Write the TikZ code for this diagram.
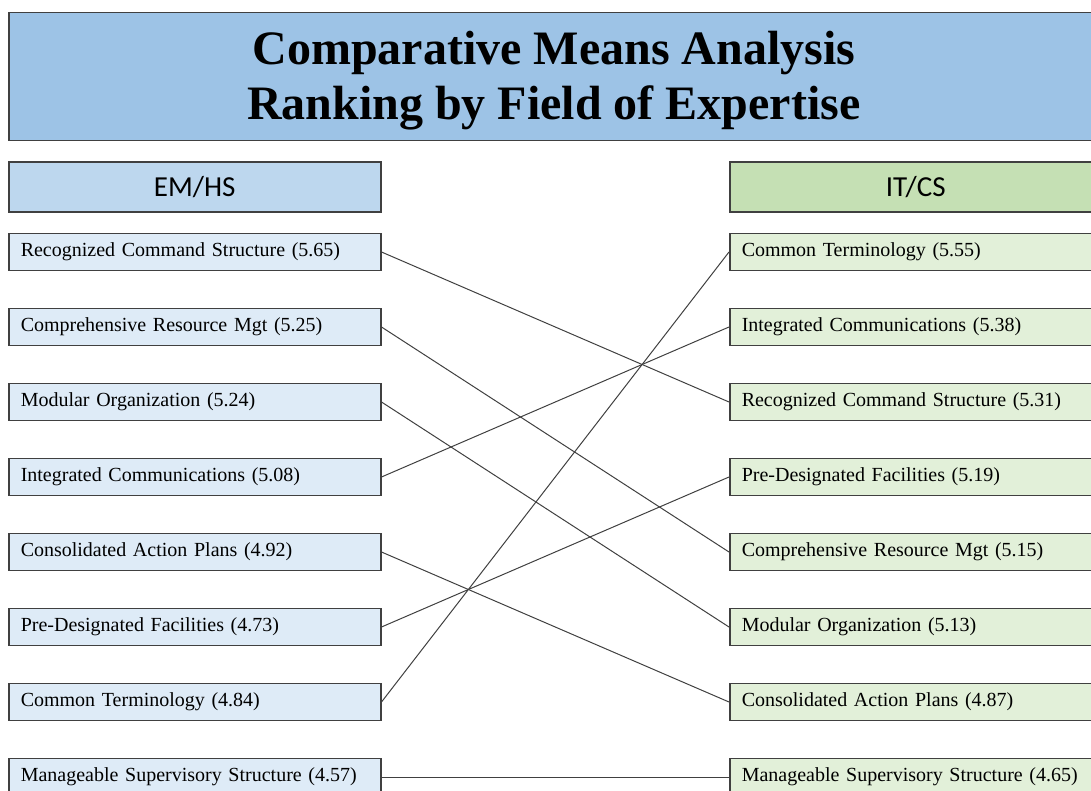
\documentclass[tikz,border=0pt]{standalone}
\usepackage{fontspec}
\setmainfont{Liberation Serif}
\newfontfamily\hdfont{Carlito}
\usetikzlibrary{positioning}
\definecolor{edge}{RGB}{64,64,64}
\definecolor{titlefill}{RGB}{157,195,230}
\definecolor{lhead}{RGB}{189,215,238}
\definecolor{lfill}{RGB}{222,235,247}
\definecolor{rhead}{RGB}{197,224,180}
\definecolor{rfill}{RGB}{226,240,217}
\newcommand\itemfont{\fontsize{20}{22}\selectfont\spaceskip=0.55em plus 0.1em\relax}
\tikzset{box/.style = {draw=edge, line width=1.5pt, minimum height=37pt, text width=348pt, inner xsep=12pt, inner ysep=0pt, font=\itemfont}}
\tikzset{lbox/.style = {box, fill=lfill}, rbox/.style = {box, fill=rfill}}
\tikzset{head/.style = {draw=edge, line width=1.5pt, minimum width=372pt, minimum height=50pt, anchor=west, font=\hdfont\fontsize{29}{32}\selectfont}}
\tikzset{link/.style = {draw=edge, line width=1pt}}

\begin{document}
\begin{tikzpicture}[x=1pt, y=-1pt]
    \useasboundingbox (0, 0) rectangle (1091, 791);

    \node [draw=edge, line width=1.5pt, fill=titlefill, anchor=north west, minimum width=1090pt, minimum height=128pt,
      label={[align=center, yshift=-4pt, font=\bfseries\fontsize{48}{55}\selectfont]center:Comparative Means Analysis\\Ranking by Field of Expertise}] (title) at (8, 12) {};

    % left column
    \node [head, fill=lhead] (lh) at (8, 187) {EM/HS};
    \node [lbox, anchor=west] (l1) at (8, 252) {Recognized Command Structure (5.65)};
    \node [lbox, below=36.5pt of l1] (l2) {Comprehensive Resource Mgt (5.25)};
    \node [lbox, below=36.5pt of l2] (l3) {Modular Organization (5.24)};
    \node [lbox, below=36.5pt of l3] (l4) {Integrated Communications (5.08)};
    \node [lbox, below=36.5pt of l4] (l5) {Consolidated Action Plans (4.92)};
    \node [lbox, below=36.5pt of l5] (l6) {Pre-Designated Facilities (4.73)};
    \node [lbox, below=36.5pt of l6] (l7) {Common Terminology (4.84)};
    \node [lbox, below=36.5pt of l7] (l8) {Manageable Supervisory Structure (4.57)};

    % right column
    \node [head, fill=rhead] (rh) at (729, 187) {IT/CS};
    \node [rbox, anchor=west] (r1) at (729, 252) {Common Terminology (5.55)};
    \node [rbox, below=36.5pt of r1] (r2) {Integrated Communications (5.38)};
    \node [rbox, below=36.5pt of r2] (r3) {Recognized Command Structure (5.31)};
    \node [rbox, below=36.5pt of r3] (r4) {Pre-Designated Facilities (5.19)};
    \node [rbox, below=36.5pt of r4] (r5) {Comprehensive Resource Mgt (5.15)};
    \node [rbox, below=36.5pt of r5] (r6) {Modular Organization (5.13)};
    \node [rbox, below=36.5pt of r6] (r7) {Consolidated Action Plans (4.87)};
    \node [rbox, below=36.5pt of r7] (r8) {Manageable Supervisory Structure (4.65)};

    \draw [link] (l1.east) -- (r3.west);
    \draw [link] (l2.east) -- (r5.west);
    \draw [link] (l3.east) -- (r6.west);
    \draw [link] (l4.east) -- (r2.west);
    \draw [link] (l5.east) -- (r7.west);
    \draw [link] (l6.east) -- (r4.west);
    \draw [link] (l7.east) -- (r1.west);
    \draw [link] (l8.east) -- (r8.west);
  \end{tikzpicture}
\end{document}
